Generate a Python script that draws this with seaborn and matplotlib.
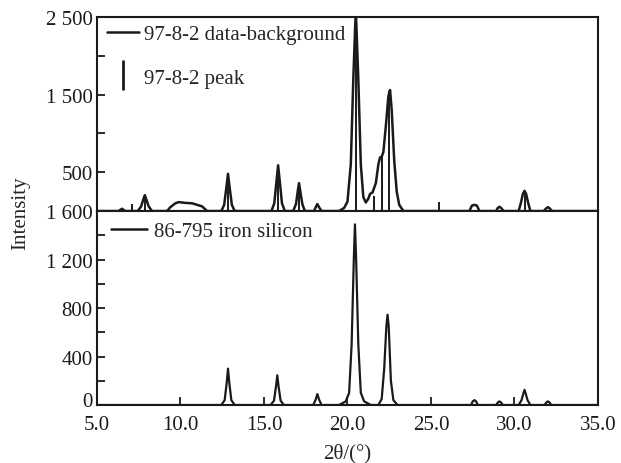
import pandas as pd
import matplotlib.pyplot as plt
import seaborn as sns
from matplotlib.lines import Line2D
from matplotlib.ticker import MultipleLocator
from matplotlib.transforms import ScaledTranslation

# 97-8-2 data-background profile (2theta, intensity)
top_x = [5.0, 6.3, 6.5, 6.7,
         7.45, 7.65, 7.78, 7.87, 7.96, 8.1, 8.3,
         9.2, 9.4, 9.7, 9.9, 10.3, 10.7, 11.0, 11.3, 11.6,
         12.45, 12.62, 12.75, 12.85, 12.95, 13.08, 13.25,
         15.45, 15.62, 15.75, 15.85, 15.95, 16.08, 16.25,
         16.75, 16.92, 17.02, 17.1, 17.18, 17.3, 17.45,
         18.0, 18.1, 18.2, 18.3, 18.45,
         19.5, 19.8, 20.0, 20.2, 20.35, 20.5, 20.65, 20.8, 20.95, 21.1, 21.25, 21.35, 21.5,
         21.7, 21.85, 21.95, 22.05, 22.15, 22.3, 22.45, 22.55, 22.65, 22.8, 22.95, 23.1, 23.35,
         27.3, 27.45, 27.6, 27.75, 27.9,
         28.9, 29.0, 29.1, 29.2, 29.35,
         30.25, 30.4, 30.5, 30.6, 30.7, 30.8, 30.95,
         31.75, 31.9, 32.0, 32.1, 32.25, 35.0]
top_y = [0, 0, 30, 0,
         0, 60, 150, 205, 150, 60, 0,
         0, 50, 100, 115, 105, 100, 80, 60, 0,
         0, 80, 300, 480, 300, 80, 0,
         0, 100, 380, 590, 380, 100, 0,
         0, 90, 250, 360, 250, 90, 0,
         0, 50, 90, 50, 0,
         0, 40, 120, 600, 1700, 2600, 1700, 600, 180, 110, 160, 220, 240,
         360, 600, 690, 700, 760, 1100, 1480, 1560, 1300, 650, 250, 80, 0,
         0, 70, 80, 70, 0,
         0, 40, 55, 40, 0,
         0, 120, 220, 260, 220, 120, 0,
         0, 35, 50, 35, 0, 0]

# 97-8-2 peak positions and heights
peak_x = [7.1, 7.87, 12.85, 15.85, 17.1, 20.5, 21.6, 22.05, 22.5, 25.5, 30.6]
peak_y = [90, 200, 470, 580, 350, 2600, 190, 700, 1550, 120, 250]

# 86-795 iron silicon reference profile
bot_x = [5.0, 12.45, 12.65, 12.77, 12.85, 12.93, 13.05, 13.25,
         15.4, 15.6, 15.72, 15.8, 15.88, 16.0, 16.2,
         17.95, 18.1, 18.2, 18.3, 18.45,
         19.5, 19.9, 20.1, 20.25, 20.38, 20.45, 20.52, 20.65, 20.8, 21.0, 21.4,
         21.85, 22.05, 22.2, 22.33, 22.4, 22.47, 22.6, 22.75, 23.0,
         27.4, 27.5, 27.6, 27.7, 27.8,
         28.9, 29.0, 29.1, 29.2, 29.3,
         30.25, 30.42, 30.52, 30.6, 30.68, 30.78, 30.95,
         31.8, 31.9, 32.0, 32.1, 32.2, 35.0]
bot_y = [0, 0, 40, 180, 300, 180, 40, 0,
         0, 35, 150, 245, 150, 35, 0,
         0, 45, 90, 45, 0,
         0, 30, 100, 500, 1200, 1490, 1200, 500, 100, 30, 0,
         0, 50, 300, 650, 745, 650, 200, 40, 0,
         0, 30, 40, 30, 0,
         0, 20, 30, 20, 0,
         0, 40, 90, 125, 90, 40, 0,
         0, 20, 30, 20, 0, 0]

top_df = pd.DataFrame({"2theta": top_x, "Intensity": top_y})
bot_df = pd.DataFrame({"2theta": bot_x, "Intensity": bot_y})

sns.set_style("ticks")
plt.rcParams["font.family"] = ["Liberation Serif", "DejaVu Serif"]
plt.rcParams["font.size"] = 15

col = "#1a1a1a"
fig = plt.figure(figsize=(6.21, 4.64), dpi=100)
ax1 = fig.add_axes([0.156, 0.543, 0.807, 0.418])
ax2 = fig.add_axes([0.156, 0.125, 0.807, 0.418])

sns.lineplot(data=top_df, x="2theta", y="Intensity", ax=ax1, color=col, lw=1.8)
ax1.vlines(peak_x, 0, peak_y, color=col, lw=1.4)
sns.lineplot(data=bot_df, x="2theta", y="Intensity", ax=ax2, color=col, lw=1.6)

for ax in (ax1, ax2):
    ax.set_xlim(5, 35)
    ax.set_xlabel("")
    ax.set_ylabel("")
    for s in ax.spines.values():
        s.set_linewidth(1.5)
        s.set_color(col)
    ax.tick_params(direction="in", length=6, width=1.3, colors=col, labelsize=15, pad=3)
    ax.tick_params(which="minor", direction="in", length=6, width=1.3, colors=col)

ax1.set_ylim(0, 2500)
ax1.set_yticks([500, 1500, 2500])
ax1.set_yticklabels(["500", "1 500", "2 500"])
ax1.yaxis.set_minor_locator(MultipleLocator(500))
ax1.set_xticks([])

ax2.set_ylim(0, 1600)
ax2.set_yticks([0, 400, 800, 1200, 1600])
ax2.set_yticklabels(["0", "400", "800", "1 200", "1 600"])
ax2.yaxis.set_minor_locator(MultipleLocator(200))
ax2.set_xticks([5, 10, 15, 20, 25, 30, 35])
ax2.set_xticklabels(["5.0", "10.0", "15.0", "20.0", "25.0", "30.0", "35.0"])
ax2.tick_params(axis="x", pad=7)
ax2.set_xlabel("2θ/(°)", fontsize=15, labelpad=7)

# lift the "0" label a little so it clears the "5.0" label below it
zero_lbl = ax2.get_yticklabels()[0]
zero_lbl.set_transform(zero_lbl.get_transform() + ScaledTranslation(0, 4 / 72, fig.dpi_scale_trans))

h1 = [Line2D([], [], color=col, lw=1.8),
      Line2D([], [], color=col, marker="|", ls="none", markersize=22, markeredgewidth=2)]
ax1.legend(h1, ["97-8-2 data-background", "97-8-2 peak"], loc="upper left",
           frameon=False, fontsize=15, handlelength=1.5, handletextpad=0.25,
           labelspacing=1.15, borderaxespad=0.1, bbox_to_anchor=(0.0, 1.015))
h2 = [Line2D([], [], color=col, lw=1.8)]
ax2.legend(h2, ["86-795 iron silicon"], loc="upper left", frameon=False,
           fontsize=15, handlelength=1.7, handletextpad=0.35,
           borderaxespad=0.3, bbox_to_anchor=(0.0, 1.02))

fig.text(0.033, 0.54, "Intensity", rotation=90, ha="center", va="center", fontsize=15)

fig.savefig("out.png", dpi=100)
